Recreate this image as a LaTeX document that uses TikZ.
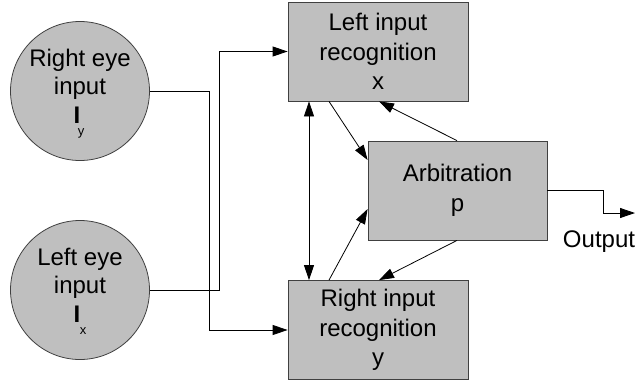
\documentclass[tikz,border=0pt]{standalone}
\usepackage{fontspec}
\setmainfont{Liberation Sans}
\usetikzlibrary{arrows.meta}
\begin{document}
\begin{tikzpicture}[x=1pt,y=-1pt,
  blk/.style={draw=black!75, fill=black!25, line width=0.8pt,
    minimum width=180pt, minimum height=99pt, inner sep=0pt,
    align=center, font=\fontsize{24}{29.5}\selectfont},
  eye/.style={circle, draw=black!75, fill=black!25, line width=0.8pt,
    minimum size=139pt, inner sep=0pt},
  lbl/.style={align=center, inner sep=0pt, font=\fontsize{24}{28}\selectfont},
  sub/.style={inner sep=0pt, font=\fontsize{13}{14}\selectfont},
  conn/.style={line width=0.8pt, -{Triangle[length=15pt,width=10pt]}},
  both/.style={line width=0.8pt, {Triangle[length=15pt,width=10pt]}-{Triangle[length=15pt,width=10pt]}}]
  \useasboundingbox (0,0) rectangle (636,381);

  % eyes
  \node[eye] (ry) at (80,91) {};
  \node[lbl] (rytxt) at (80,74) {Right eye\\input};
  \node[lbl, font=\fontsize{24}{28}\bfseries] (ryI) at (77,115) {I};
  \node[sub] (rysub) at (81,133.5) {y};

  \node[eye] (le) at (80,290) {};
  \node[lbl] (letxt) at (80,273) {Left eye\\input};
  \node[lbl, font=\fontsize{24}{28}\bfseries] (leI) at (77,314) {I};
  \node[sub] (lesub) at (83,331) {x};

  % processing blocks
  \node[blk] (lr) at (378,51.5) {Left input\\recognition\\x};
  \node[blk] (rr) at (378,330) {Right input\\recognition\\y};
  \node[blk, minimum width=179pt] (arb) at (457.5,190.5) {Arbitration\\p};

  % eye inputs, crossed over
  \draw[conn] (ry.east) -- (ry.east -| 209,0) |- (rr.west);
  \draw[conn] (le.east) -- (le.east -| 219,0) |- (lr.west);

  % mutual link between the recognisers
  \draw[both] (lr.south -| 309,0) -- (rr.north -| 309,0);

  % recognisers to arbitration and back
  \draw[conn] (lr.south -| 329,0) -- (arb.west |- 0,160);
  \draw[conn] (arb.north -| 457,0) -- (lr.south -| 379,0);
  \draw[conn] (rr.north -| 329,0) -- (arb.west |- 0,209);
  \draw[conn] (arb.south -| 457,0) -- (rr.north -| 379,0);

  % output
  \coordinate (outend) at (635,213);
  \draw[conn] (arb.east |- 0,190) -- (603,190) |- (outend);
  \node[lbl] (outtxt) at (599,242) {Output};
\end{tikzpicture}
\end{document}
